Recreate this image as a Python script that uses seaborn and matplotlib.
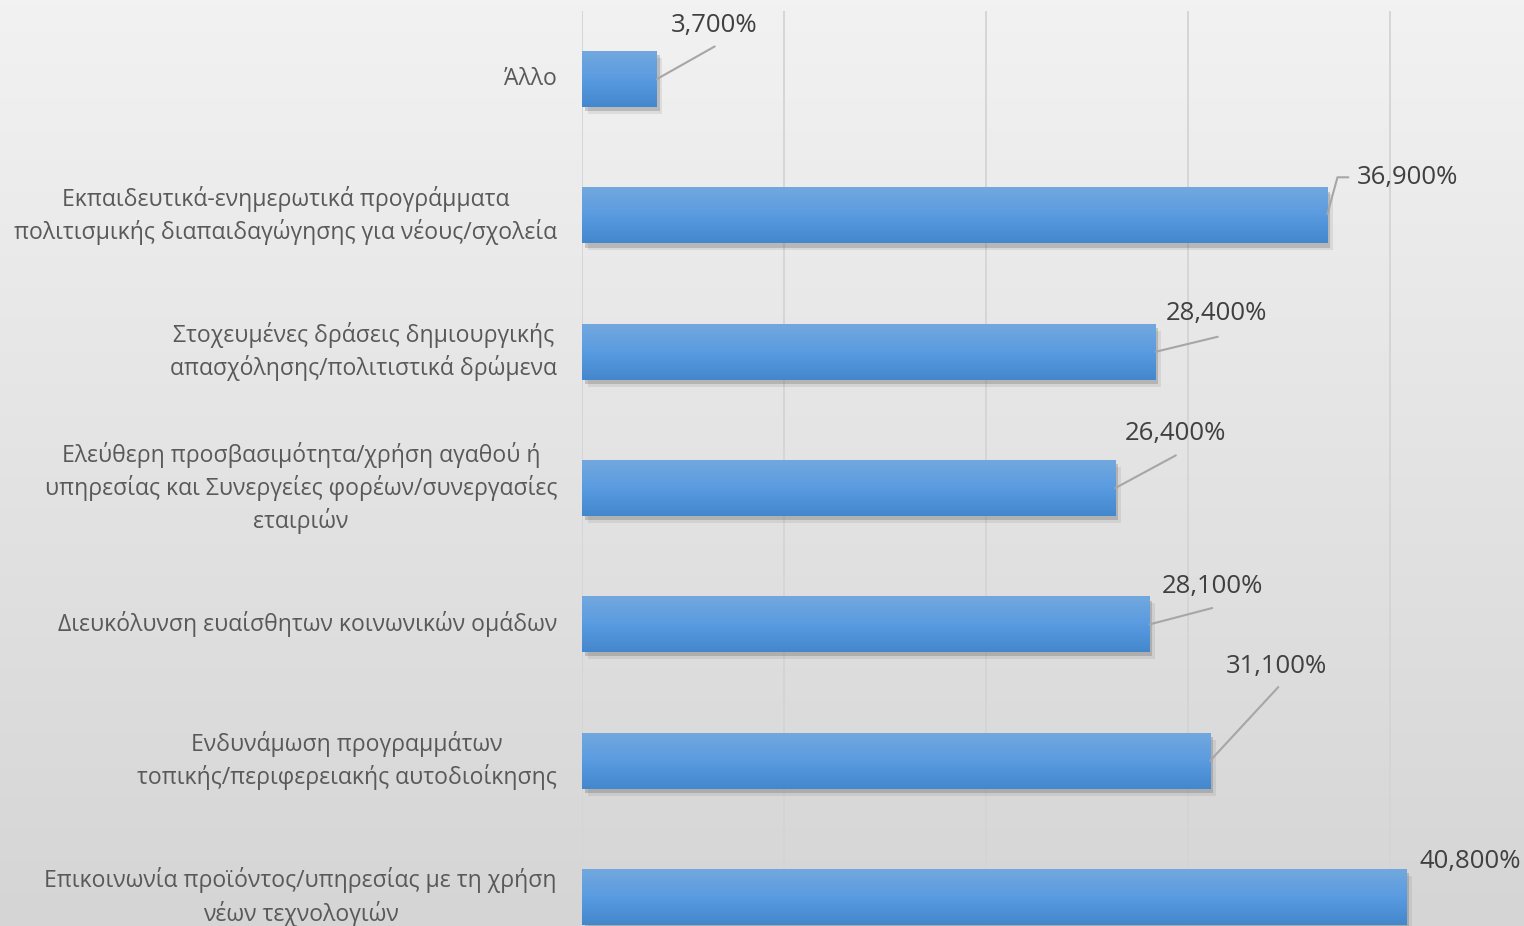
import numpy as np
import matplotlib
matplotlib.use("Agg")
import matplotlib.pyplot as plt
import matplotlib.patheffects as pe
from matplotlib.colors import LinearSegmentedColormap
import seaborn as sns

# --- data ---------------------------------------------------------------
categorias = [
    "Άλλο",
    "Εκπαιδευτικά-ενημερωτικά προγράμματα\nπολιτισμικής διαπαιδαγώγησης για νέους/σχολεία",
    "Στοχευμένες δράσεις δημιουργικής\nαπασχόλησης/πολιτιστικά δρώμενα",
    "Ελεύθερη προσβασιμότητα/χρήση αγαθού ή\nυπηρεσίας και Συνεργείες φορέων/συνεργασίες\nεταιριών",
    "Διευκόλυνση ευαίσθητων κοινωνικών ομάδων",
    "Ενδυνάμωση προγραμμάτων\nτοπικής/περιφερειακής αυτοδιοίκησης",
    "Επικοινωνία προϊόντος/υπηρεσίας με τη χρήση\nνέων τεχνολογιών",
]
porcentajes = [3.7, 36.9, 28.4, 26.4, 28.1, 31.1, 40.8]

# label placement relative to bar end (dx in %, dy in category units)
offs_texto = [(2.82, -0.39), (3.96, -0.28), (3.0, -0.28), (3.0, -0.40),
              (3.1, -0.28), (3.3, -0.69), (3.17, -0.26)]
guias = [
    [(0, 0), (2.87, -0.24)],
    [(0, -0.01), (0.5, -0.28), (1.04, -0.28)],
    [(0, 0), (3.07, -0.11)],
    [(0, 0), (3.0, -0.24)],
    [(0, 0), (3.1, -0.12)],
    [(0, 0), (3.37, -0.54)],
    None,
]

# --- style --------------------------------------------------------------
sns.set_theme(style="white")
plt.rcParams["font.family"] = ["Open Sans", "DejaVu Sans"]

fig = plt.figure(figsize=(15.24, 9.26), dpi=100)

# figure background gradient
fondo = fig.add_axes([0, 0, 1, 1], zorder=-10)
cmap_fondo = LinearSegmentedColormap.from_list("fondo", ["#f2f2f2", "#d5d5d5"])
fondo.imshow(np.linspace(0, 1, 256).reshape(-1, 1), cmap=cmap_fondo, aspect="auto",
             extent=(0, 1, 0, 1), origin="upper")
fondo.axis("off")

ax = fig.add_axes([582 / 1524, 0, 1 - 582 / 1524, 1 - 11 / 926])
ax.set_facecolor("none")

sns.barplot(x=porcentajes, y=categorias, orient="h", width=0.41,
            color="#5b9bd5", linewidth=0, ax=ax, zorder=3)

# gradient fill and soft shadow on bars
cmap_barra = LinearSegmentedColormap.from_list("barra", ["#72a8de", "#5a9be0", "#4387cd"])
grad = np.linspace(0, 1, 128).reshape(-1, 1)
for p in ax.patches:
    x0, y0 = p.get_xy()
    w, h = p.get_width(), p.get_height()
    p.set_path_effects([
        pe.SimplePatchShadow(offset=(4, -5), shadow_rgbFace="#777777", alpha=0.15),
        pe.SimplePatchShadow(offset=(2, -3), shadow_rgbFace="#555555", alpha=0.25),
        pe.Normal()])
    ax.imshow(grad, cmap=cmap_barra, aspect="auto", extent=(x0, x0 + w, y0 + h, y0),
              origin="upper", zorder=4)

# data labels with leader lines
for i, v in enumerate(porcentajes):
    dx, dy = offs_texto[i]
    ax.text(v + dx, i + dy, f"{v:.3f}%".replace(".", ","), ha="center", va="center",
            fontsize=18.5, color="#404040", zorder=6)
    if guias[i] is not None:
        xs = [v + a for a, b in guias[i]]
        ys = [i + b for a, b in guias[i]]
        ax.plot(xs, ys, color="#a6a6a6", lw=1.5, zorder=5)

ax.set_xlim(0, (1524 - 582) / 20.2)
ax.set_ylim(6 + (926 - 897) / 136.2, -0.5)
ax.set_xticks([0, 10, 20, 30, 40])
ax.set_xticklabels([])
ax.grid(axis="x", color="#d4d4d4", lw=1.3)
ax.set_axisbelow(True)
ax.tick_params(axis="y", length=0, pad=18, labelsize=16.6, labelcolor="#595959")
ax.tick_params(axis="x", length=0)
for t in ax.get_yticklabels():
    t.set_multialignment("center")
    t.set_linespacing(1.37)
    t.set_verticalalignment("center")
for s in ax.spines.values():
    s.set_visible(False)
ax.set_xlabel("")
ax.set_ylabel("")

fig.savefig("out.png", dpi=100)
